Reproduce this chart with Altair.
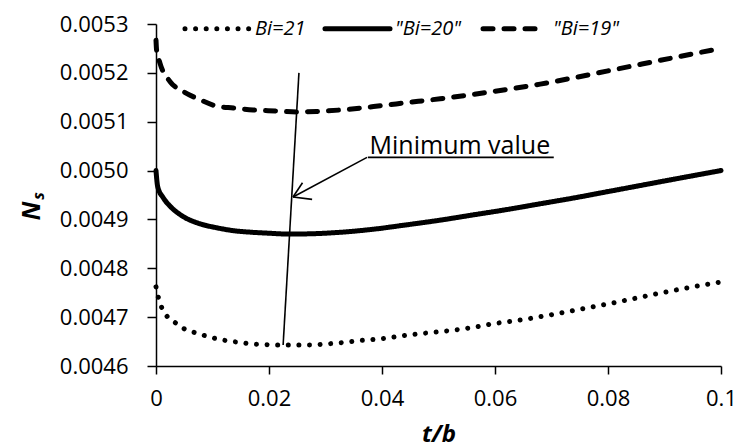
import altair as alt
import pandas as pd

# ---- data ----
series_names = ['Bi=21', '"Bi=20"', '"Bi=19"']

t21 = [0, 0.0004, 0.001, 0.002, 0.0035, 0.005, 0.007, 0.009, 0.011, 0.013, 0.015,
       0.017, 0.019, 0.021, 0.023, 0.025, 0.027, 0.03, 0.033, 0.036, 0.04, 0.045,
       0.05, 0.055, 0.06, 0.065, 0.07, 0.075, 0.08, 0.085, 0.09, 0.095, 0.1]
v21 = [0.004762, 0.004741, 0.00472, 0.004701, 0.004688, 0.004676, 0.004668, 0.004661,
       0.004655, 0.004651, 0.004648, 0.004645, 0.004644, 0.004643, 0.004643, 0.004643,
       0.004643, 0.004645, 0.004648, 0.004652, 0.004656, 0.004664, 0.00467, 0.004677,
       0.004687, 0.004695, 0.004705, 0.004716, 0.004727, 0.004739, 0.004751, 0.004762,
       0.004772]

t20 = [0, 0.0003, 0.0013, 0.0025, 0.0048, 0.0078, 0.0107, 0.0137, 0.0166, 0.0196,
       0.0237, 0.0284, 0.033, 0.0385, 0.0444, 0.05, 0.056, 0.062, 0.068, 0.074, 0.08,
       0.086, 0.092, 0.1]
v20 = [0.0050, 0.004967, 0.004944, 0.004927, 0.004906, 0.004891, 0.004883, 0.004877,
       0.004874, 0.004872, 0.00487, 0.004871, 0.004874, 0.00488, 0.004889, 0.004898,
       0.004909, 0.00492, 0.004932, 0.004944, 0.004957, 0.00497, 0.004983, 0.0050]

t19 = [0, 0.0001, 0.0007, 0.0025, 0.0048, 0.0078, 0.0107, 0.0137, 0.0172, 0.0214,
       0.0249, 0.0284, 0.0326, 0.0385, 0.0444, 0.0503, 0.0562, 0.0621, 0.068, 0.074,
       0.08, 0.086, 0.092, 0.1]
v19 = [0.005267, 0.005247, 0.00522, 0.005182, 0.005162, 0.005145, 0.005132, 0.005128,
       0.005124, 0.005122, 0.00512, 0.005121, 0.005124, 0.005131, 0.005139, 0.005147,
       0.005156, 0.005166, 0.005177, 0.00519, 0.005204, 0.005218, 0.005232, 0.00525]

x_ticks = [0, 0.02, 0.04, 0.06, 0.08, 0.1]
y_ticks = [0.0046, 0.0047, 0.0048, 0.0049, 0.0050, 0.0051, 0.0052, 0.0053]

# annotation segments (data units): locus of minima, arrow shaft, arrow barbs, underline
seg_t1 = [0.0225, 0.03735, 0.02425, 0.02425, 0.0375]
seg_v1 = [0.004643, 0.005027, 0.004946, 0.004946, 0.005027]
seg_t2 = [0.0253, 0.02425, 0.02593, 0.02763, 0.0704]
seg_v2 = [0.0052, 0.004946, 0.004975, 0.004941, 0.005027]
note_text = ['Minimum value']
note_t = [0.0378]
note_v = [0.005033]

# legend row placed inside the plot (data units): sample start/end, label start
leg_t0 = [0.00513, 0.02991, 0.05788]
leg_t1 = [0.01664, 0.04142, 0.06903]
leg_label_t = [0.01752, 0.0423, 0.07027]
leg_v = 0.0052905

FONT = 'Open Sans'
LW = 5

rows = []
for name, ts, vs in zip(series_names, [t21, t20, t19], [v21, v20, v19]):
    for t, v in zip(ts, vs):
        rows.append({'t': t, 'v': v, 'series': name})
df = pd.DataFrame(rows)
seg_df = pd.DataFrame({'t1': seg_t1, 'v1': seg_v1, 't2': seg_t2, 'v2': seg_v2})
note_df = pd.DataFrame({'t': note_t, 'v': note_v, 'txt': note_text})
leg_df = pd.DataFrame({'series': series_names, 't0': leg_t0, 't1': leg_t1,
                       'tl': leg_label_t, 'v': [leg_v] * 3})

xscale = alt.Scale(domain=[0, 0.1], nice=False, zero=False)
yscale = alt.Scale(domain=[0.0046, 0.0053], nice=False, zero=False)
dash_scale = alt.Scale(domain=series_names, range=[[0.01, 10.6], [1, 0], [10, 11]])

xaxis = alt.Axis(values=x_ticks, format='~g', labelFont=FONT, labelFontSize=22,
                 labelColor='black', labelPadding=14, labelFlush=False, labelOverlap=False,
                 domainColor='black', domainWidth=1.5, tickColor='black', tickWidth=1.5,
                 tickSize=8, grid=False, title='t/b', titleFont=FONT, titleFontSize=24,
                 titleFontWeight='bold', titleFontStyle='italic', titleColor='black',
                 titleBaseline='alphabetic', titleY=75)
yaxis = alt.Axis(values=y_ticks, format='.4f', labelFont=FONT, labelFontSize=22,
                 labelColor='black', labelPadding=19, labelFlush=False, labelOverlap=False,
                 domainColor='black', domainWidth=1.5, tickColor='black', tickWidth=1.5,
                 tickSize=9, grid=False, title=None)

lines = alt.Chart(df).mark_line(
    color='black', strokeWidth=LW, strokeCap='round', strokeJoin='round',
    interpolate='monotone'
).encode(
    x=alt.X('t:Q', scale=xscale, axis=xaxis),
    y=alt.Y('v:Q', scale=yscale, axis=yaxis),
    strokeDash=alt.StrokeDash('series:N', scale=dash_scale, legend=None),
)

# legend: line samples share the same dash scale as the curves
leg_lines = alt.Chart(leg_df).mark_rule(color='black', strokeWidth=LW,
                                        strokeCap='round').encode(
    x=alt.X('t0:Q', scale=xscale), x2='t1:Q',
    y=alt.Y('v:Q', scale=yscale),
    strokeDash=alt.StrokeDash('series:N', scale=dash_scale, legend=None),
)
leg_text = alt.Chart(leg_df).mark_text(
    font=FONT, fontSize=20, fontStyle='italic', color='black', align='left',
    baseline='middle'
).encode(x=alt.X('tl:Q', scale=xscale), y=alt.Y('v:Q', scale=yscale), text='series:N')

segs = alt.Chart(seg_df).mark_rule(color='black', strokeWidth=1.6).encode(
    x=alt.X('t1:Q', scale=xscale), y=alt.Y('v1:Q', scale=yscale),
    x2='t2:Q', y2='v2:Q')

note = alt.Chart(note_df).mark_text(
    font=FONT, fontSize=25, color='black', align='left', baseline='alphabetic'
).encode(x=alt.X('t:Q', scale=xscale), y=alt.Y('v:Q', scale=yscale), text='txt:N')

# y-axis title  N with subscript s
ytitle_n = alt.Chart(pd.DataFrame({'s': ['N']})).mark_text(
    font=FONT, fontSize=25, fontWeight='bold', fontStyle='italic', color='black',
    angle=270, align='center', baseline='alphabetic'
).encode(x=alt.value(-116), y=alt.value(187), text='s:N')
ytitle_s = alt.Chart(pd.DataFrame({'s': ['s']})).mark_text(
    font=FONT, fontSize=16, fontWeight='bold', fontStyle='italic', color='black',
    angle=270, align='center', baseline='alphabetic'
).encode(x=alt.value(-112), y=alt.value(172), text='s:N')

chart = alt.layer(lines, leg_lines, leg_text, segs, note, ytitle_n, ytitle_s).properties(
    width=565, height=342,
    autosize=alt.AutoSizeParams(type='none'),
    padding={'left': 156, 'top': 24, 'right': 17, 'bottom': 82},
    background='white'
).configure_view(stroke=None)

chart.save("out.html", embed_options={"renderer": "svg", "actions": False})
